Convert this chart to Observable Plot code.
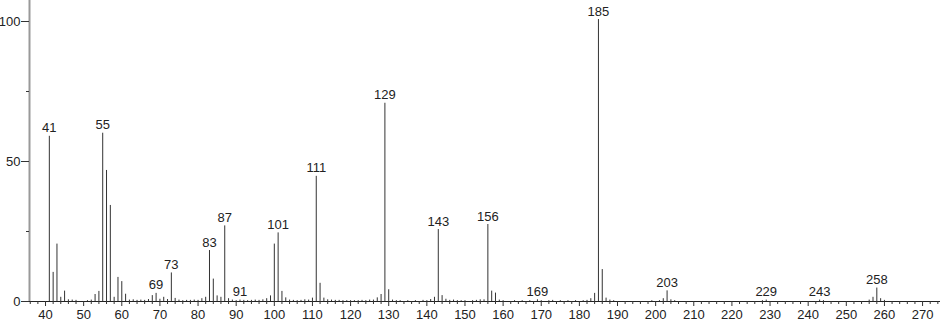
<!DOCTYPE html>
<html>
<head>
<meta charset="utf-8">
<script src="https://cdn.jsdelivr.net/npm/d3@7"></script>
<script src="https://cdn.jsdelivr.net/npm/@observablehq/plot@0.6"></script>
<style>
  html, body { margin: 0; padding: 0; background: #fff; }
  #chart svg { display: block; }
</style>
</head>
<body>
<div id="chart"></div>
<script>
// m/z values and relative intensities
const mz = [41,42,43,44,45,46,47,48,51,52,53,54,55,56,57,58,59,60,61,62,63,64,65,66,67,68,69,70,71,72,73,74,75,76,77,78,79,80,81,82,83,84,85,86,87,88,89,90,91,92,93,94,95,96,97,98,99,100,101,102,103,104,105,106,107,108,109,110,111,112,113,114,115,116,117,118,119,120,121,122,123,124,125,126,127,128,129,130,131,132,133,135,137,139,140,141,142,143,144,145,146,147,148,149,150,152,153,154,155,156,157,158,159,160,163,165,167,169,170,172,173,175,177,179,181,182,183,184,185,186,187,188,189,199,201,202,203,204,205,228,229,243,244,256,257,258,259,260];
const intensity = [59,10.4,20.5,1.5,3.7,0.6,0.5,0.4,0.3,0.5,2.5,3.6,60.1,46.8,34.3,1.5,8.6,7.1,2.6,0.5,0.6,0.4,0.5,0.4,0.7,2.1,2.9,0.8,1.5,0.7,10.2,1.1,0.5,0.3,0.4,0.4,0.5,0.4,1.0,1.5,18.2,8.0,2.0,1.5,27.0,1.0,0.5,0.3,0.5,0.4,0.3,0.4,0.5,0.4,0.6,1.0,2.0,20.5,24.5,3.6,1.3,0.5,0.4,0.3,0.4,0.6,0.5,1.2,44.7,6.5,1.2,0.6,0.5,0.4,0.4,0.3,0.3,0.3,0.3,0.3,0.4,0.3,0.5,0.5,1.3,2.5,70.8,4.2,0.5,0.3,0.3,0.3,0.3,0.4,0.3,0.7,1.5,25.7,2.1,0.8,0.4,0.5,0.3,0.3,0.3,0.3,0.4,0.6,0.6,27.5,3.7,3.0,0.5,0.3,0.3,0.3,0.3,0.6,0.3,0.3,0.4,0.3,0.3,0.3,0.3,0.4,1.0,2.9,100.7,11.4,1.2,0.5,0.3,0.3,0.3,1.0,3.8,0.6,0.3,0.3,0.5,0.5,0.3,0.5,1.5,4.8,1.0,0.4];
// peaks that carry a text label
const labeledMz = [41,55,69,73,83,87,91,101,111,129,143,156,169,185,203,229,243,258];
// axis ticks
const xMajorTicks = [40,50,60,70,80,90,100,110,120,130,140,150,160,170,180,190,200,210,220,230,240,250,260,270];
const xMinorTicks = d3.range(36, 275, 2).filter(d => d % 10 !== 0);
const yMajorTicks = [0, 50, 100];
const yMinorTicks = [25, 75];

const peaks = mz.map((m, i) => ({mz: m, v: intensity[i]}));
const labeled = peaks.filter(d => labeledMz.includes(d.mz));

const chart = Plot.plot({
  width: 940,
  height: 323,
  marginLeft: 29,
  marginRight: 0,
  marginTop: 0,
  marginBottom: 22,
  style: {fontFamily: "'Liberation Sans', Arial, sans-serif", fontSize: "13px", color: "#222", background: "#fff"},
  x: {domain: [35.8, 274.7], label: null},
  y: {domain: [0, 107.5], label: null},
  marks: [
    Plot.ruleX(peaks, {x: "mz", y1: 0, y2: "v", stroke: "#333", strokeWidth: 1}),
    Plot.text(labeled, {x: "mz", y: "v", text: d => String(d.mz), lineAnchor: "bottom", dy: -4, fontSize: 13, fill: "#222"}),
    Plot.ruleY([0], {stroke: "#222"}),
    Plot.ruleX([35.8], {stroke: "#999", strokeWidth: 2}),
    Plot.axisX(xMajorTicks, {tickSize: 5, tickPadding: 3, stroke: "#333", fill: "#222", fontSize: 13}),
    Plot.axisX(xMinorTicks, {tickSize: 3, tickFormat: () => "", stroke: "#333"}),
    Plot.axisY(yMajorTicks, {tickSize: 8, tickPadding: 1, stroke: "#333", fill: "#222", fontSize: 13}),
    Plot.axisY(yMinorTicks, {tickSize: 3, tickFormat: () => "", stroke: "#333"})
  ]
});
document.getElementById("chart").appendChild(chart);
</script>
</body>
</html>
